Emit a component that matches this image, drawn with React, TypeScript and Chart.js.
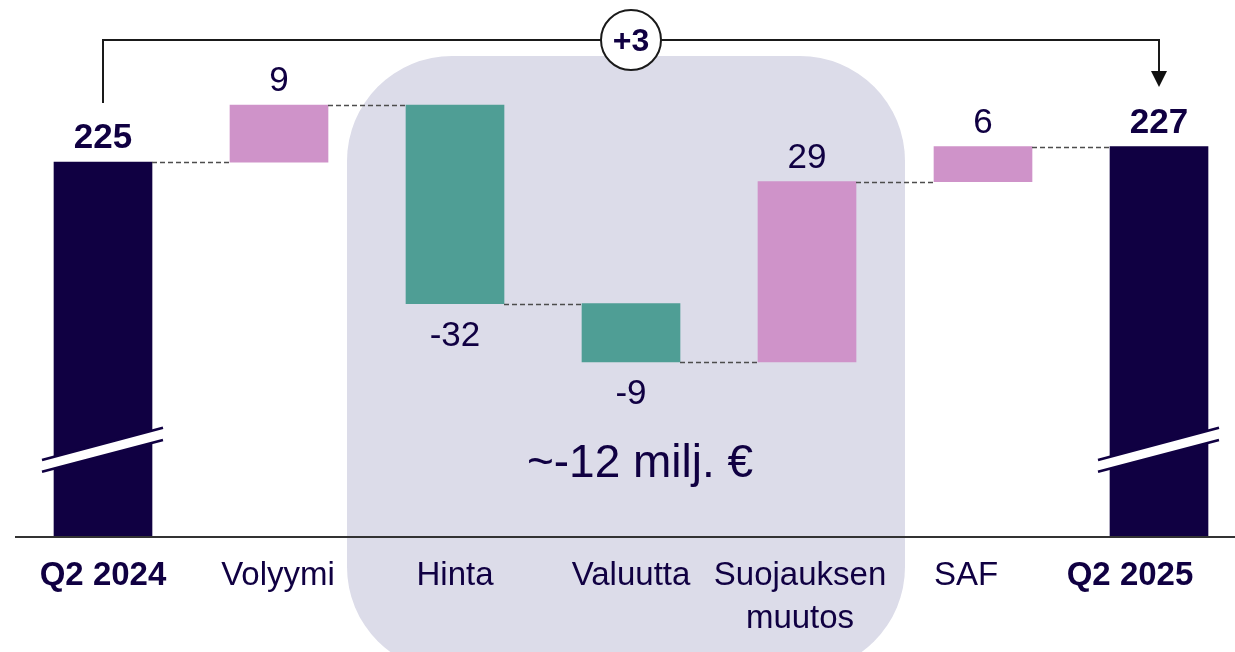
import React, { useEffect, useRef } from 'react';
import { Chart, registerables } from 'chart.js';

Chart.register(...registerables);

// ---- data ----
const categories: string[][] = [
  ['Q2 2024'],
  ['Volyymi'],
  ['Hinta'],
  ['Valuutta'],
  ['Suojauksen', 'muutos'],
  ['SAF'],
  ['Q2 2025'],
];
const startTotal = 225.0;
const changes = [9.1, -31.7, -9.3, 28.8, 5.6];
const endTotal = 227.5;
const valueLabels = ['225', '9', '-32', '-9', '29', '6', '227'];
const bridgeLabel = '+3';
const highlightLabel = '~-12 milj. €';
const axisBase = 165.3; // broken axis: value at the baseline
const axisTop = 250.9;

// ---- styles ----
const NAVY = '#100042';
const PINK = '#cf93c9';
const TEAL = '#4f9e95';
const GREY_BOX = '#dcdce9';
const FONT = "'Liberation Sans', Arial, Helvetica, sans-serif";
const labelDx = [0, -1, 0, 0, -7, -17, -29];

function buildRanges(): [number, number][] {
  const ranges: [number, number][] = [[axisBase, startTotal]];
  let level = startTotal;
  for (const c of changes) {
    ranges.push([level, level + c]);
    level += c;
  }
  ranges.push([axisBase, endTotal]);
  return ranges;
}

function barColors(): string[] {
  const cols = [NAVY];
  for (const c of changes) cols.push(c >= 0 ? PINK : TEAL);
  cols.push(NAVY);
  return cols;
}

const decorPlugin = {
  id: 'decor',
  beforeDatasetsDraw(chart: any) {
    const ctx = chart.ctx as CanvasRenderingContext2D;
    const xs = chart.scales.x;
    const left = xs.getPixelForValue(2) - 108;
    const right = xs.getPixelForValue(4) + 98;
    const top = 56;
    const bottom = 672;
    const r = 105;
    ctx.save();
    ctx.fillStyle = GREY_BOX;
    ctx.beginPath();
    ctx.moveTo(left + r, top);
    ctx.lineTo(right - r, top);
    ctx.arcTo(right, top, right, top + r, r);
    ctx.lineTo(right, bottom - r);
    ctx.arcTo(right, bottom, right - r, bottom, r);
    ctx.lineTo(left + r, bottom);
    ctx.arcTo(left, bottom, left, bottom - r, r);
    ctx.lineTo(left, top + r);
    ctx.arcTo(left, top, left + r, top, r);
    ctx.closePath();
    ctx.fill();
    ctx.restore();
  },
  afterDatasetsDraw(chart: any) {
    const ctx = chart.ctx as CanvasRenderingContext2D;
    const ys = chart.scales.y;
    const meta = chart.getDatasetMeta(0);
    const bars = meta.data;
    const ranges = buildRanges();
    const n = ranges.length;

    // connectors
    ctx.save();
    ctx.strokeStyle = '#4d4d4d';
    ctx.lineWidth = 1.5;
    ctx.setLineDash([5, 3]);
    for (let i = 0; i < n - 1; i++) {
      const level = ranges[i][1];
      const y = Math.round(ys.getPixelForValue(level)) + 0.5;
      const b0 = bars[i];
      const b1 = bars[i + 1];
      ctx.beginPath();
      ctx.moveTo(b0.x + b0.width / 2, y);
      ctx.lineTo(b1.x - b1.width / 2, y);
      ctx.stroke();
    }
    ctx.restore();

    // axis break marks on total bars
    for (const i of [0, n - 1]) {
      const cx = bars[i].x;
      ctx.save();
      ctx.fillStyle = '#ffffff';
      ctx.beginPath();
      ctx.moveTo(cx - 61, 460);
      ctx.lineTo(cx + 60, 427.7);
      ctx.lineTo(cx + 60, 440);
      ctx.lineTo(cx - 61, 471.7);
      ctx.closePath();
      ctx.fill();
      ctx.strokeStyle = NAVY;
      ctx.lineWidth = 2.5;
      ctx.beginPath();
      ctx.moveTo(cx - 61, 460);
      ctx.lineTo(cx + 60, 427.7);
      ctx.moveTo(cx - 61, 471.7);
      ctx.lineTo(cx + 60, 440);
      ctx.stroke();
      ctx.restore();
    }

    // baseline
    const baseY = chart.chartArea.bottom + 1;
    ctx.save();
    ctx.strokeStyle = '#333333';
    ctx.lineWidth = 2;
    ctx.beginPath();
    ctx.moveTo(15, baseY);
    ctx.lineTo(1235, baseY);
    ctx.stroke();
    ctx.restore();

    // value labels
    ctx.save();
    ctx.fillStyle = NAVY;
    ctx.textAlign = 'center';
    ctx.textBaseline = 'alphabetic';
    for (let i = 0; i < n; i++) {
      const [a, b] = ranges[i];
      const bold = i === 0 || i === n - 1;
      ctx.font = `${bold ? 'bold ' : ''}35px ${FONT}`;
      const topPx = ys.getPixelForValue(Math.max(a, b));
      const botPx = ys.getPixelForValue(Math.min(a, b));
      const neg = i > 0 && i < n - 1 && changes[i - 1] < 0;
      const y = neg ? botPx + 42 : topPx - 14;
      ctx.fillText(valueLabels[i], bars[i].x, y);
    }
    ctx.restore();

    // category labels
    ctx.save();
    ctx.fillStyle = NAVY;
    ctx.textAlign = 'center';
    ctx.textBaseline = 'alphabetic';
    for (let i = 0; i < categories.length; i++) {
      const bold = i === 0 || i === categories.length - 1;
      ctx.font = `${bold ? 'bold ' : ''}33px ${FONT}`;
      categories[i].forEach((line, k) => {
        ctx.fillText(line, bars[i].x + labelDx[i], 585 + k * 43);
      });
    }
    ctx.restore();

    // highlight text
    ctx.save();
    ctx.fillStyle = NAVY;
    ctx.textAlign = 'center';
    ctx.font = `46px ${FONT}`;
    ctx.fillText(highlightLabel, 640, 477);
    ctx.restore();

    // bridge bracket
    const x0 = bars[0].x;
    const x1 = bars[n - 1].x;
    const by = 40;
    ctx.save();
    ctx.strokeStyle = '#1a1a1a';
    ctx.lineWidth = 2;
    ctx.beginPath();
    ctx.moveTo(x0, 103);
    ctx.lineTo(x0, by);
    ctx.lineTo(x1, by);
    ctx.lineTo(x1, 72);
    ctx.stroke();
    ctx.fillStyle = '#111111';
    ctx.beginPath();
    ctx.moveTo(x1 - 8, 71);
    ctx.lineTo(x1 + 8, 71);
    ctx.lineTo(x1, 87);
    ctx.closePath();
    ctx.fill();
    const cx = 631;
    ctx.fillStyle = '#ffffff';
    ctx.beginPath();
    ctx.arc(cx, by, 30, 0, Math.PI * 2);
    ctx.fill();
    ctx.stroke();
    ctx.fillStyle = NAVY;
    ctx.textAlign = 'center';
    ctx.font = `bold 32px ${FONT}`;
    ctx.fillText(bridgeLabel, cx, by + 11);
    ctx.restore();
  },
};

export default function App() {
  const ref = useRef<HTMLCanvasElement | null>(null);
  useEffect(() => {
    if (!ref.current) return;
    const chart = new Chart(ref.current, {
      type: 'bar',
      data: {
        labels: categories.map((c) => c.join(' ')),
        datasets: [
          {
            data: buildRanges() as any,
            backgroundColor: barColors(),
            borderWidth: 0,
            barThickness: 98,
            clip: false,
          } as any,
        ],
      },
      options: {
        animation: false,
        responsive: false,
        maintainAspectRatio: false,
        devicePixelRatio: 1,
        layout: { padding: { left: 103, right: 76, top: 0, bottom: 0 } },
        plugins: { legend: { display: false }, tooltip: { enabled: false } },
        scales: {
          x: {
            type: 'category',
            offset: false,
            grid: { display: false },
            border: { display: false },
            ticks: { display: false },
            afterFit: (scale: any) => {
              scale.height = 116;
            },
          },
          y: {
            display: false,
            min: axisBase,
            max: axisTop,
          },
        },
      },
      plugins: [decorPlugin],
    });
    return () => chart.destroy();
  }, []);
  return (
    <div
      style={{
        position: 'fixed',
        left: 0,
        top: 0,
        width: 1235,
        height: 652,
        overflow: 'hidden',
        background: '#ffffff',
      }}
    >
      <canvas ref={ref} width={1235} height={652} style={{ display: 'block' }} />
    </div>
  );
}
